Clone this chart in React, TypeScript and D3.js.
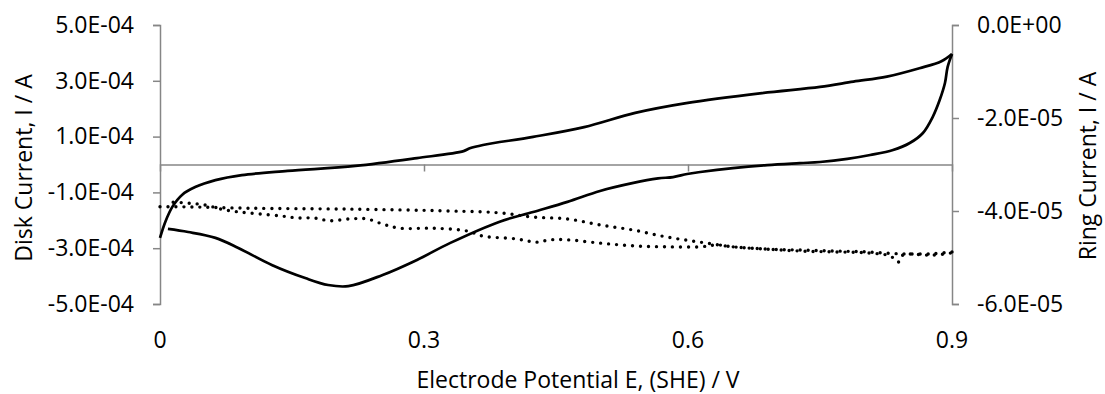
import React, { useEffect, useRef } from 'react';
import * as d3 from 'd3';

// disk current, anodic sweep (V, A)
const diskFwdE = [0, 0.006, 0.014, 0.025, 0.04, 0.063, 0.093, 0.145, 0.222, 0.292, 0.345, 0.352, 0.367, 0.424, 0.482, 0.54, 0.598, 0.684, 0.75, 0.788, 0.826, 0.863, 0.888, 0.9];
const diskFwdI = [-2.63e-4, -2.06e-4, -1.52e-4, -1.09e-4, -0.81e-4, -0.56e-4, -0.38e-4, -0.23e-4, -0.05e-4, 0.23e-4, 0.48e-4, 0.58e-4, 0.7e-4, 0.99e-4, 1.34e-4, 1.85e-4, 2.2e-4, 2.56e-4, 2.78e-4, 2.97e-4, 3.15e-4, 3.45e-4, 3.7e-4, 3.96e-4];
// disk current, cathodic sweep
const diskRevE = [0.9, 0.895, 0.892, 0.886, 0.878, 0.867, 0.852, 0.833, 0.807, 0.781, 0.75, 0.727, 0.69, 0.651, 0.614, 0.599, 0.583, 0.566, 0.538, 0.5, 0.463, 0.424, 0.386, 0.33, 0.292, 0.253, 0.214, 0.191, 0.165, 0.127, 0.089, 0.063, 0.032, 0.009];
const diskRevI = [3.96e-4, 3.49e-4, 2.92e-4, 2.31e-4, 1.7e-4, 1.13e-4, 0.77e-4, 0.52e-4, 0.34e-4, 0.2e-4, 0.09e-4, 0.05e-4, -0.02e-4, -0.13e-4, -0.27e-4, -0.34e-4, -0.45e-4, -0.5e-4, -0.66e-4, -0.95e-4, -1.34e-4, -1.7e-4, -2.05e-4, -2.81e-4, -3.42e-4, -3.96e-4, -4.36e-4, -4.32e-4, -4.07e-4, -3.6e-4, -2.99e-4, -2.63e-4, -2.42e-4, -2.31e-4];
// ring current, anodic sweep
const ringFwdE = [0, 0.026, 0.102, 0.216, 0.33, 0.386, 0.424, 0.463, 0.5, 0.538, 0.576, 0.614, 0.651, 0.69, 0.727, 0.765, 0.803, 0.83, 0.839, 0.844, 0.878, 0.9];
const ringFwdI = [-3.91e-5, -3.91e-5, -3.94e-5, -3.96e-5, -4.0e-5, -4.04e-5, -4.13e-5, -4.17e-5, -4.3e-5, -4.41e-5, -4.56e-5, -4.67e-5, -4.77e-5, -4.82e-5, -4.86e-5, -4.88e-5, -4.9e-5, -4.97e-5, -5.1e-5, -4.95e-5, -4.95e-5, -4.9e-5];
// ring current, cathodic sweep
const ringRevE = [0.9, 0.878, 0.841, 0.803, 0.765, 0.727, 0.69, 0.651, 0.633, 0.614, 0.576, 0.538, 0.5, 0.463, 0.443, 0.428, 0.405, 0.367, 0.349, 0.31, 0.273, 0.253, 0.235, 0.216, 0.193, 0.175, 0.157, 0.139, 0.112, 0.089, 0.07, 0.051, 0.032, 0.014];
const ringRevI = [-4.88e-5, -4.92e-5, -4.92e-5, -4.88e-5, -4.86e-5, -4.84e-5, -4.82e-5, -4.77e-5, -4.73e-5, -4.77e-5, -4.77e-5, -4.75e-5, -4.69e-5, -4.62e-5, -4.62e-5, -4.67e-5, -4.6e-5, -4.54e-5, -4.43e-5, -4.37e-5, -4.37e-5, -4.28e-5, -4.17e-5, -4.17e-5, -4.21e-5, -4.15e-5, -4.15e-5, -4.11e-5, -4.06e-5, -4.02e-5, -3.96e-5, -3.87e-5, -3.83e-5, -3.81e-5];

const xTicks = [0, 0.3, 0.6, 0.9];
const leftTicks = [5e-4, 3e-4, 1e-4, -1e-4, -3e-4, -5e-4];
const rightTicks = [0, -2e-5, -4e-5, -6e-5];

const W = 1105;
const H = 394;
const FONT = "'Open Sans', sans-serif";
const FS = '23px';
const AXIS = '#868686';

function expLabel(v: number) {
  // Excel style 5.0E-04
  if (v === 0) return '0.0E+00';
  const e = Math.floor(Math.log10(Math.abs(v)) + 1e-9);
  const m = v / Math.pow(10, e);
  const sign = e < 0 ? '-' : '+';
  return `${m.toFixed(1)}E${sign}${String(Math.abs(e)).padStart(2, '0')}`;
}

function App() {
  const ref = useRef<SVGSVGElement>(null);

  useEffect(() => {
    const svg = d3.select(ref.current);
    svg.selectAll('*').remove();

    const left = 160, right = 952, top = 25, bottom = 304;

    const x = d3.scaleLinear().domain([0, 0.9]).range([left, right]);
    const yL = d3.scaleLinear().domain([-5e-4, 5e-4]).range([bottom, top]);
    const yR = d3.scaleLinear().domain([-6e-5, 0]).range([bottom, top]);

    const g = svg.append('g');

    // left axis
    const la = g.append('g')
      .attr('transform', `translate(${left},0)`)
      .call(d3.axisLeft(yL).tickValues(leftTicks).tickSize(7).tickPadding(19).tickFormat(d => expLabel(+d)));
    // right axis
    const ra = g.append('g')
      .attr('transform', `translate(${right},0)`)
      .call(d3.axisRight(yR).tickValues(rightTicks).tickSize(7).tickPadding(18).tickFormat(d => expLabel(+d)));
    // x axis drawn at zero disk current
    const xa = g.append('g')
      .attr('transform', `translate(0,${yL(0)})`)
      .call(d3.axisBottom(x).tickValues([0.3, 0.6]).tickSize(7).tickFormat(() => ''));

    [la, ra, xa].forEach(a => {
      a.select('.domain').attr('stroke', AXIS).attr('stroke-width', 1.5);
      a.selectAll('.tick line').attr('stroke', AXIS).attr('stroke-width', 1.5);
      a.selectAll('.tick text').attr('fill', '#000').style('font-family', FONT).style('font-size', FS);
    });

    // x tick labels sit at the bottom
    g.append('g').selectAll('text').data(xTicks).enter().append('text')
      .attr('x', d => x(d))
      .attr('y', 348)
      .attr('text-anchor', 'middle')
      .style('font-family', FONT)
      .style('font-size', FS)
      .text(d => String(d));

    const lineL = d3.line<[number, number]>()
      .x(d => x(d[0])).y(d => yL(d[1])).curve(d3.curveCatmullRom.alpha(0.5));
    const lineR = d3.line<[number, number]>()
      .x(d => x(d[0])).y(d => yR(d[1])).curve(d3.curveCatmullRom.alpha(0.5));

    const zip = (a: number[], b: number[]) => a.map((v, i) => [v, b[i]] as [number, number]);

    [zip(ringFwdE, ringFwdI), zip(ringRevE, ringRevI)].forEach(pts => {
      g.append('path')
        .attr('d', lineR(pts) as string)
        .attr('fill', 'none')
        .attr('stroke', '#000')
        .attr('stroke-width', 3.4)
        .attr('stroke-linecap', 'round')
        .attr('stroke-dasharray', '0 8');
    });

    [zip(diskFwdE, diskFwdI), zip(diskRevE, diskRevI)].forEach(pts => {
      g.append('path')
        .attr('d', lineL(pts) as string)
        .attr('fill', 'none')
        .attr('stroke', '#000')
        .attr('stroke-width', 2.7);
    });

    // axis titles
    g.append('text')
      .attr('x', (left + right) / 2 + 22)
      .attr('y', 388)
      .attr('text-anchor', 'middle')
      .style('font-family', FONT)
      .style('font-size', FS)
      .text('Electrode Potential E, (SHE) / V');

    g.append('text')
      .attr('transform', `translate(32,168) rotate(-90)`)
      .attr('text-anchor', 'middle')
      .style('font-family', FONT)
      .style('font-size', FS)
      .text('Disk Current, I / A');

    g.append('text')
      .attr('transform', `translate(1096,166) rotate(-90)`)
      .attr('text-anchor', 'middle')
      .style('font-family', FONT)
      .style('font-size', FS)
      .text('Ring Current, I / A');
  }, []);

  return (
    <svg ref={ref} width={W} height={H}
      style={{ position: 'absolute', left: 0, top: 0, background: '#fff' }} />
  );
}

export default App;
